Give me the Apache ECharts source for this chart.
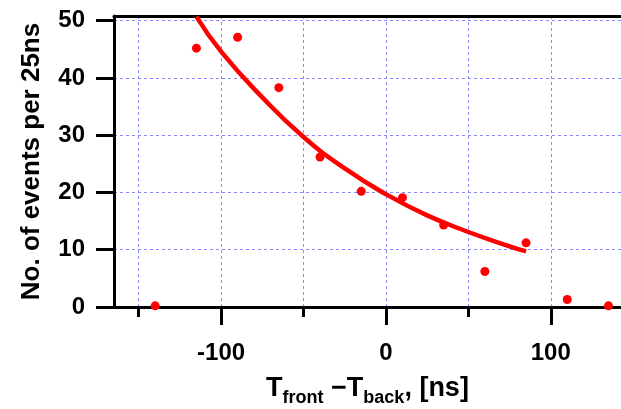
<!DOCTYPE html>
<html>
<head>
<meta charset="utf-8">
<script src="https://cdn.jsdelivr.net/npm/echarts@6/dist/echarts.min.js"></script>
<style>
html, body { margin: 0; padding: 0; background: #fff; }
#main { width: 621px; height: 409px; }
</style>
</head>
<body>
<div id="main"></div>
<script>
// measured points (time difference in ns, events per 25ns)
var pointX = [-140, -115, -90, -65, -40, -15, 10, 35, 60, 85, 110, 135];
var pointY = [0.2, 45.2, 47.1, 38.3, 26.2, 20.2, 19.1, 14.3, 6.2, 11.2, 1.3, 0.2];

// fitted curve
var fitX = [-115, -100, -75, -50, -25, 0, 25, 50, 75, 85];
var fitY = [50.7, 44.6, 36.6, 29.7, 24.2, 19.7, 16.0, 13.1, 10.6, 9.7];

// ticks
var xMajorTicks = [-100, 0, 100];
var xGridTicks = [-150, -100, -50, 0, 50, 100];
var yTicks = [0, 10, 20, 30, 40, 50];

var font = "'Liberation Sans', Arial, sans-serif";

function pairs(xs, ys) {
    var out = [];
    for (var i = 0; i < xs.length; i++) {
        out.push([xs[i], ys[i]]);
    }
    return out;
}

var myChart = echarts.init(document.getElementById('main'));

var gridLine = {
    show: true,
    lineStyle: { color: '#8a8aff', width: 1, type: [3, 3] }
};

var option = {
    animation: false,
    grid: { left: 114, top: 16, right: 0, bottom: 102, outerBoundsMode: 'none', containLabel: false },
    xAxis: [
        {
            // minor ticks + vertical grid
            type: 'value',
            min: -165,
            max: 142.6,
            position: 'bottom',
            axisLine: { show: true, onZero: false, lineStyle: { color: '#000', width: 3 } },
            axisTick: { show: true, customValues: xGridTicks, length: 10, lineStyle: { color: '#000', width: 3 } },
            axisLabel: { show: false },
            splitLine: gridLine,
            name: '{t|T}{s|front}{t| \u2212T}{s|back}{t|, [ns]}',
            nameLocation: 'middle',
            nameGap: 64,
            nameTextStyle: {
                rich: {
                    t: { fontFamily: font, fontWeight: 'bold', fontSize: 27, color: '#000' },
                    s: { fontFamily: font, fontWeight: 'bold', fontSize: 18, color: '#000', padding: [18, 0, 0, 0] }
                }
            }
        },
        {
            // major ticks with labels
            type: 'value',
            min: -165,
            max: 142.6,
            position: 'bottom',
            axisLine: { show: false, onZero: false },
            axisTick: { show: true, customValues: xMajorTicks, length: 18, lineStyle: { color: '#000', width: 3 } },
            axisLabel: {
                customValues: xMajorTicks,
                margin: 34,
                fontFamily: font,
                fontWeight: 'bold',
                fontSize: 24,
                color: '#000'
            },
            splitLine: { show: false }
        },
        {
            // top frame line
            type: 'value',
            min: -165,
            max: 142.6,
            position: 'top',
            axisLine: { show: true, onZero: false, lineStyle: { color: '#000', width: 3 } },
            axisTick: { show: false },
            axisLabel: { show: false },
            splitLine: { show: false }
        }
    ],
    yAxis: {
        type: 'value',
        min: 0,
        max: 50.82,
        axisLine: { show: true, onZero: false, lineStyle: { color: '#000', width: 3 } },
        axisTick: { show: true, customValues: yTicks, length: 18, lineStyle: { color: '#000', width: 3 } },
        axisLabel: {
            customValues: yTicks,
            margin: 29,
            fontFamily: font,
            fontWeight: 'bold',
            fontSize: 24,
            color: '#000'
        },
        splitLine: gridLine,
        name: 'No. of events per 25ns',
        nameLocation: 'middle',
        nameGap: 69,
        nameTextStyle: { fontFamily: font, fontWeight: 'bold', fontSize: 26, color: '#000' }
    },
    series: [
        {
            name: 'fit',
            type: 'line',
            xAxisIndex: 0,
            smooth: true,
            showSymbol: false,
            lineStyle: { color: '#ff0000', width: 4.5 },
            data: pairs(fitX, fitY),
            z: 3
        },
        {
            name: 'data',
            type: 'scatter',
            xAxisIndex: 0,
            symbolSize: 9,
            itemStyle: { color: '#ff0000', opacity: 1 },
            data: pairs(pointX, pointY),
            z: 4
        }
    ]
};

myChart.setOption(option);
</script>
</body>
</html>
